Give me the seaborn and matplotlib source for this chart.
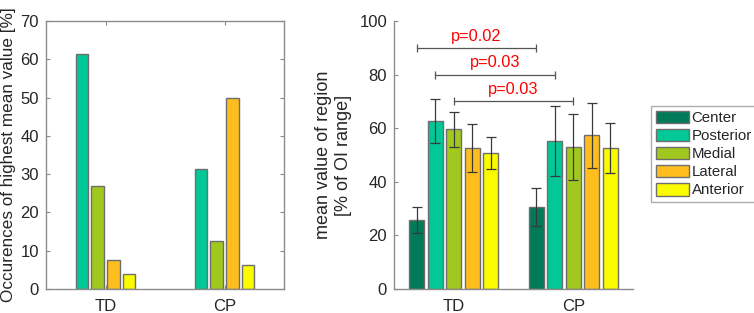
import numpy as np
import pandas as pd
import matplotlib
matplotlib.use("Agg")
import matplotlib.pyplot as plt
from matplotlib.container import BarContainer
import seaborn as sns

# --- data ---
groups = ["TD", "CP"]
regions = ["Center", "Posterior", "Medial", "Lateral", "Anterior"]
region_colors = ["#007a58", "#00c896", "#a0c81e", "#ffbe1e", "#fafa00"]

# left panel: occurences of highest mean value (Center never wins)
occ_regions = ["Posterior", "Medial", "Lateral", "Anterior"]
occ_td = [61.5, 26.9, 7.7, 3.8]
occ_cp = [31.25, 12.5, 50.0, 6.25]

# right panel: mean value of region with error
mean_td = [25.8, 62.7, 59.6, 52.6, 50.9]
mean_cp = [30.5, 55.1, 53.0, 57.3, 52.5]
err_td = [4.9, 8.1, 6.5, 8.8, 6.0]
err_cp = [7.1, 13.0, 12.2, 12.1, 9.3]

# significance brackets (region compared TD vs CP)
sig_regions = ["Center", "Posterior", "Medial"]
sig_heights = [90, 80, 70]
sig_labels = ["p=0.02", "p=0.03", "p=0.03"]

sns.set_style("white")
plt.rcParams['font.family'] = ['Liberation Sans', 'DejaVu Sans']
plt.rcParams['xtick.direction'] = 'in'
plt.rcParams['ytick.direction'] = 'in'

spine_col = "#8c8c8c"
text_col = "#262626"
edge_col = "#6e6e6e"
tick_fs = 12

fig = plt.figure(figsize=(7.54, 3.13), dpi=100)
ax1 = fig.add_axes([46/754, 24/313, 238/754, 268/313])
ax2 = fig.add_axes([394/754, 24/313, 239/754, 268/313])

df1 = pd.DataFrame({
    "group": np.repeat(groups, len(occ_regions)),
    "region": occ_regions * 2,
    "value": occ_td + occ_cp,
})
sns.barplot(data=df1, x="group", y="value", hue="region", order=groups,
            hue_order=occ_regions, palette=region_colors[1:], width=0.53,
            gap=0.2, edgecolor=edge_col, linewidth=1, saturation=1,
            legend=False, ax=ax1)

df2 = pd.DataFrame({
    "group": np.repeat(groups, len(regions)),
    "region": regions * 2,
    "value": mean_td + mean_cp,
})
sns.barplot(data=df2, x="group", y="value", hue="region", order=groups,
            hue_order=regions, palette=region_colors, width=0.775,
            gap=0.21, edgecolor=edge_col, linewidth=1, saturation=1,
            ax=ax2)

bars = [c for c in ax2.containers if isinstance(c, BarContainer)]

# error bars on the bars seaborn drew
errs = {"TD": err_td, "CP": err_cp}
means = {"TD": mean_td, "CP": mean_cp}
for i, cont in enumerate(bars):
    for j, bar in enumerate(cont.patches):
        g = groups[j]
        xc = bar.get_x() + bar.get_width() / 2
        ax2.errorbar(xc, means[g][i], yerr=errs[g][i], fmt='none',
                     ecolor="#3a3a3a", elinewidth=0.9, capsize=3.5,
                     capthick=0.9)

# brackets
for reg, h, lab in zip(sig_regions, sig_heights, sig_labels):
    cont = bars[regions.index(reg)]
    xs = [b.get_x() + b.get_width() / 2 for b in cont.patches]
    ax2.plot(xs, [h, h], color="#555555", lw=0.9, marker='|',
             markersize=6, markeredgewidth=0.9)
    ax2.text(np.mean(xs), h + 1.6, lab, color="red", ha='center',
             va='bottom', fontsize=11.8)

# legend outside at the right
leg = ax2.get_legend()
handles = leg.legend_handles
labels = [t.get_text() for t in leg.get_texts()]
leg.remove()
fig.legend(handles, labels, loc='upper left',
           bbox_to_anchor=(651/754, 1 - 106/313), fontsize=10.8,
           frameon=True, fancybox=False, edgecolor="#999999",
           borderpad=0.3, labelspacing=0.25, handlelength=2.2,
           handleheight=0.9, handletextpad=0.2, borderaxespad=0)

# axes styling
ax1.set_ylim(0, 70)
ax1.set_yticks(range(0, 71, 10))
ax1.set_xlim(-0.5, 1.5)
ax1.set_ylabel("Occurences of highest mean value [%]", fontsize=12.3,
               color=text_col, labelpad=3)
ax1.set_xlabel("")
for s in ax1.spines.values():
    s.set_color(spine_col)
    s.set_linewidth(1)
ax1.tick_params(axis='both', which='both', direction='in', length=3,
                color=spine_col, labelsize=tick_fs, labelcolor=text_col,
                top=True, right=True, bottom=True, left=True, pad=5)
ax1.tick_params(axis='x', pad=7)

ax2.set_ylim(0, 100)
ax2.set_yticks(range(0, 101, 20))
ax2.set_xlim(-0.5, 1.5)
ax2.set_ylabel("mean value of region\n[% of OI range]", fontsize=13,
               color=text_col, labelpad=5, linespacing=1.25)
ax2.set_xlabel("")
ax2.spines['top'].set_visible(False)
ax2.spines['right'].set_visible(False)
for s in ['left', 'bottom']:
    ax2.spines[s].set_color(spine_col)
    ax2.spines[s].set_linewidth(1)
ax2.tick_params(axis='both', which='both', direction='in', length=3,
                color=spine_col, labelsize=tick_fs, labelcolor=text_col,
                bottom=True, left=True, pad=5)
ax2.tick_params(axis='x', pad=7)

fig.savefig("out.png", dpi=100)
